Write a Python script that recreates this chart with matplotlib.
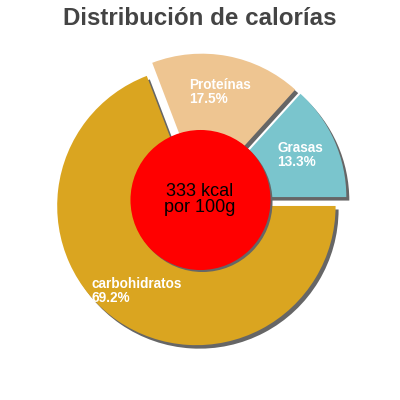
import matplotlib
matplotlib.use("Agg")
import matplotlib.pyplot as plt
import numpy as np

# Data
categories = ["Grasas", "Proteínas", "carbohidratos"]
percentages = [13.3, 17.5, 69.2]
colors = ["#7AC5CD", "#EEC591", "#DAA520"]
title = "Distribución de calorías"
center_text = "333 kcal\npor 100g"

plt.rcParams['font.family'] = ['Liberation Sans', 'DejaVu Sans']

fig = plt.figure(figsize=(4, 4), dpi=100)
ax = fig.add_axes([0, 0, 1, 1])

cx, cy = 200.5, 200.0
R = 139.2
# matplotlib's explode is an absolute offset in data units
explode = [0.052 * R] * len(percentages)
shadow_off = (3.0, -3.5)

# shadow pie
ax.pie(percentages, colors=["#666666"] * 3, startangle=0, counterclock=True,
       center=(cx + shadow_off[0], cy + shadow_off[1]), radius=R,
       explode=explode, frame=True, wedgeprops=dict(linewidth=0))
wedges, _ = ax.pie(percentages, colors=colors, startangle=0, counterclock=True,
                   center=(cx, cy), radius=R, explode=explode, frame=True,
                   wedgeprops=dict(linewidth=0))

# labels
for w, cat, p in zip(wedges, categories, percentages):
    ang = np.deg2rad((w.theta1 + w.theta2) / 2)
    d = 0.79 * R
    ax.text(cx + d * np.cos(ang) - 1, cy + d * np.sin(ang), f"{cat}\n{p}%",
            ha="center", va="center", multialignment="left",
            color="white", fontsize=9.8, fontweight="bold", linespacing=1.0)

# center circle
ax.add_patch(plt.Circle((cx + 2, cy - 2), 0.503 * R, color="#666666", lw=0))
ax.add_patch(plt.Circle((cx, cy), 0.503 * R, color="#FF0000", lw=0))
ax.text(cx - 1, cy + 0.5, center_text, ha="center", va="center", fontsize=13,
        color="black", linespacing=0.95)

ax.text(200, 375, title, ha="center", va="baseline", fontsize=17.4,
        fontweight="bold", color="#444444")

ax.set_xlim(0, 400)
ax.set_ylim(0, 400)
ax.set_aspect("equal")
ax.axis("off")
fig.savefig("out.png", dpi=100)
